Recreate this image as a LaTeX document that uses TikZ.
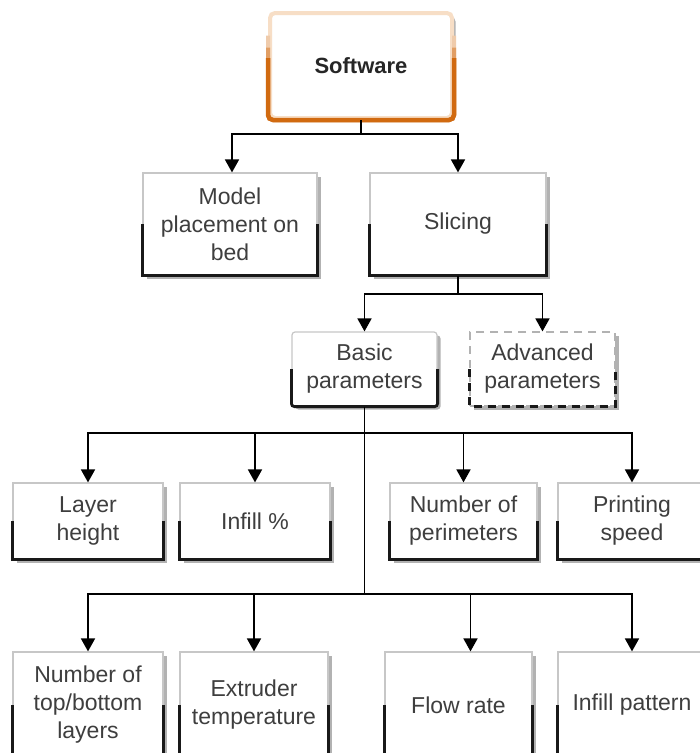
\documentclass[tikz,border=0pt]{standalone}
\usepackage{fontspec}
\setmainfont{Liberation Sans}
\usetikzlibrary{arrows.meta,shadows}
\definecolor{orng}{RGB}{209,106,16}
\definecolor{peach}{RGB}{247,222,198}
\definecolor{txt}{RGB}{62,62,62}
\tikzset{
 box/.style={draw=black!22, line width=1.2pt, fill=white, align=center,
   font=\fontsize{23}{28}\selectfont, text=txt, inner sep=0pt,
   drop shadow={shadow xshift=3.5pt, shadow yshift=-3.5pt, fill=black!50, opacity=0.6}},
 dk/.style={line width=2.8pt, black!90},
 arr/.style={line width=1.8pt, black, -{Triangle[length=13pt,width=14pt]}},
 ln/.style={line width=1.8pt, black},
}
\newcommand\darkedge[1]{\draw[dk] (#1.west) -- (#1.south west) -- (#1.south east) -- (#1.east);}
\begin{document}
\begin{tikzpicture}[x=1pt,y=-1pt]
\useasboundingbox (0,0) rectangle (700,753);
\clip (0,0) rectangle (700,753);
\fill[white] (0,0) rectangle (700,753);

% top
\node[box, draw=peach, line width=4pt, rounded corners=5pt, minimum width=182pt, minimum height=105pt,
  font=\fontsize{22}{26}\selectfont\bfseries, text=black!85] (sw) at (361,65.5) {Software};
\draw[line width=4pt, orng!35, rounded corners=5pt] ([yshift=30pt]sw.west) -- (sw.south west) -- (sw.south east) -- ([yshift=30pt]sw.east);
\draw[line width=4pt, orng!65, rounded corners=5pt] ([yshift=18pt]sw.west) -- (sw.south west) -- (sw.south east) -- ([yshift=18pt]sw.east);
\draw[line width=4.5pt, orng, rounded corners=5pt] ([yshift=7.5pt]sw.west) -- (sw.south west) -- (sw.south east) -- ([yshift=7.5pt]sw.east);

% row 2
\node[box, minimum width=174pt, minimum height=102pt] (model) at (230,224) {Model\\placement on\\bed};
\darkedge{model}
\node[box, minimum width=176pt, minimum height=102pt] (slicing) at (458,224) {Slicing};
\darkedge{slicing}

% row parameters
\node[box, rounded corners=3pt, minimum width=145pt, minimum height=74pt] (basic) at (364.5,369) {Basic\\parameters};
\draw[dk, rounded corners=3pt] (basic.west) -- (basic.south west) -- (basic.south east) -- (basic.east);
\node[box, dash pattern=on 8pt off 6pt, draw=black!30, minimum width=145pt, minimum height=74pt] (adv) at (542.5,369) {Advanced\\parameters};
\draw[dk, dash pattern=on 8pt off 6pt] (adv.west) -- (adv.south west) -- (adv.south east) -- (adv.east);

% row 3
\node[box, minimum width=150pt, minimum height=76pt] (layer) at (88,521) {Layer\\height};
\darkedge{layer}
\node[box, minimum width=150pt, minimum height=76pt] (infill) at (255,521) {Infill \%};
\darkedge{infill}
\node[box, minimum width=147pt, minimum height=76pt] (perim) at (463.5,521) {Number of\\perimeters};
\darkedge{perim}
\node[box, minimum width=148pt, minimum height=76pt] (speed) at (632,521) {Printing\\speed};
\darkedge{speed}

% row 4
\node[box, minimum width=150pt, minimum height=106pt] (topbot) at (88,705) {Number of\\top/bottom\\layers};
\darkedge{topbot}
\node[box, minimum width=148pt, minimum height=106pt] (extr) at (254,705) {Extruder\\temperature};
\darkedge{extr}
\node[box, minimum width=147pt, minimum height=106pt] (flow) at (458.5,705) {Flow rate};
\darkedge{flow}
\node[box, minimum width=148pt, minimum height=106pt] (pattern) at (632,705) {Infill pattern};
\darkedge{pattern}

% connectors
\coordinate (j1) at (361,134);
\draw[ln] (sw.south) -- (j1);
\draw[arr] (j1) -| ([xshift=2pt]model.north);
\draw[arr] (j1) -| (slicing.north);

\coordinate (j2) at (458,294);
\draw[ln] (slicing.south) -- (j2);
\draw[arr] (j2) -| (basic.north);
\draw[arr] (j2) -| (adv.north);

\coordinate (j3) at (364.5,433);
\coordinate (j4) at (364.5,594);
\draw[ln] (basic.south) -- (j4);
\draw[arr] (j3) -| (layer.north);
\draw[arr] (j3) -| (infill.north);
\draw[arr] (j3) -| (perim.north);
\draw[arr] (j3) -| (speed.north);

\draw[arr] (j4) -| (topbot.north);
\draw[arr] (j4) -| (extr.north);
\draw[arr] (j4) -| ([xshift=12pt]flow.north);
\draw[arr] (j4) -| (pattern.north);
\end{tikzpicture}
\end{document}
